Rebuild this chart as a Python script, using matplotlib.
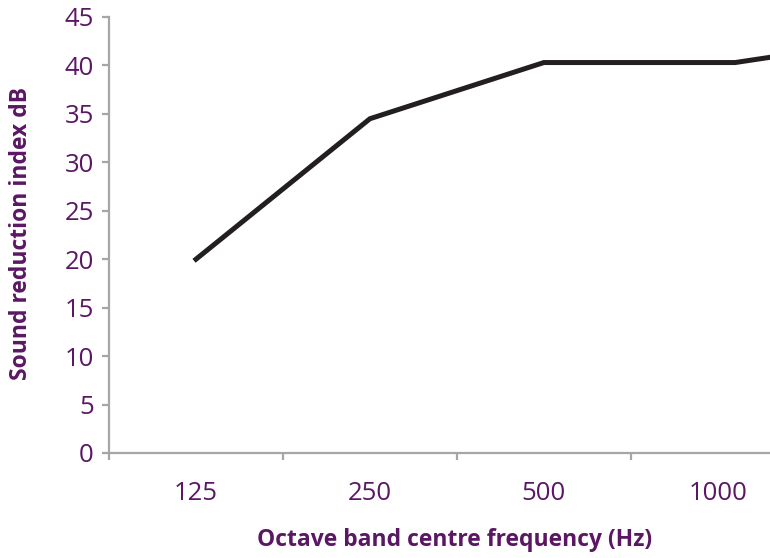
import matplotlib
matplotlib.use("Agg")
import matplotlib.pyplot as plt
from matplotlib.ticker import FixedLocator, NullFormatter

# Data
categories = ["125", "250", "500", "1000"]
line_x = [0, 1, 2, 3.1, 4.1]          # category positions of the line vertices
line_y = [20, 34.5, 40.3, 40.3, 43.0]  # sound reduction index (dB)
y_ticks = [0, 5, 10, 15, 20, 25, 30, 35, 40, 45]

purple = "#5b1764"
grey = "#a6a6a6"
font = ["Open Sans", "DejaVu Sans"]

fig = plt.figure(figsize=(7.70, 5.58), dpi=100)
ax = fig.add_axes([109 / 770, 1 - 453 / 558, 1 - 109 / 770, (453 - 17) / 558])

ax.plot(line_x, line_y, color="#231f20", lw=3.6, solid_joinstyle="miter",
        clip_on=True)

ax.set_xlim(-0.5, 3.30)
ax.set_ylim(0, 45)

for s in ["top", "right"]:
    ax.spines[s].set_visible(False)
for s in ["left", "bottom"]:
    ax.spines[s].set_color(grey)
    ax.spines[s].set_linewidth(1.6)

ax.set_yticks(y_ticks)
ax.set_yticklabels([str(v) for v in y_ticks], fontfamily=font, fontsize=18.5,
                   color=purple)
ax.tick_params(axis="y", length=5, width=1.6, color=grey, pad=6)

# category boundaries as major ticks (no labels), category names as minor ticks
ax.xaxis.set_major_locator(FixedLocator([-0.5, 0.5, 1.5, 2.5]))
ax.xaxis.set_major_formatter(NullFormatter())
ax.xaxis.set_minor_locator(FixedLocator(list(range(len(categories)))))
ax.set_xticklabels(categories, minor=True, fontfamily=font, fontsize=18.5,
                   color=purple)
ax.tick_params(axis="x", which="major", length=5, width=1.6, color=grey)
ax.tick_params(axis="x", which="minor", length=0, pad=20)

ax.set_xlabel("Octave band centre frequency (Hz)", fontfamily=font,
              fontsize=16.5, fontweight="bold", color=purple)
ax.set_ylabel("Sound reduction index dB", fontfamily=font, fontsize=16.5,
              fontweight="bold", color=purple)
ax.xaxis.set_label_coords((455 - 109) / 661, -(540 - 453) / 436, transform=ax.transAxes)
ax.xaxis.label.set_va("center")
ax.yaxis.set_label_coords(-(109 - 21) / 661, (453 - 233) / 436, transform=ax.transAxes)
ax.yaxis.label.set_va("center")

fig.savefig("out.png", dpi=100)
